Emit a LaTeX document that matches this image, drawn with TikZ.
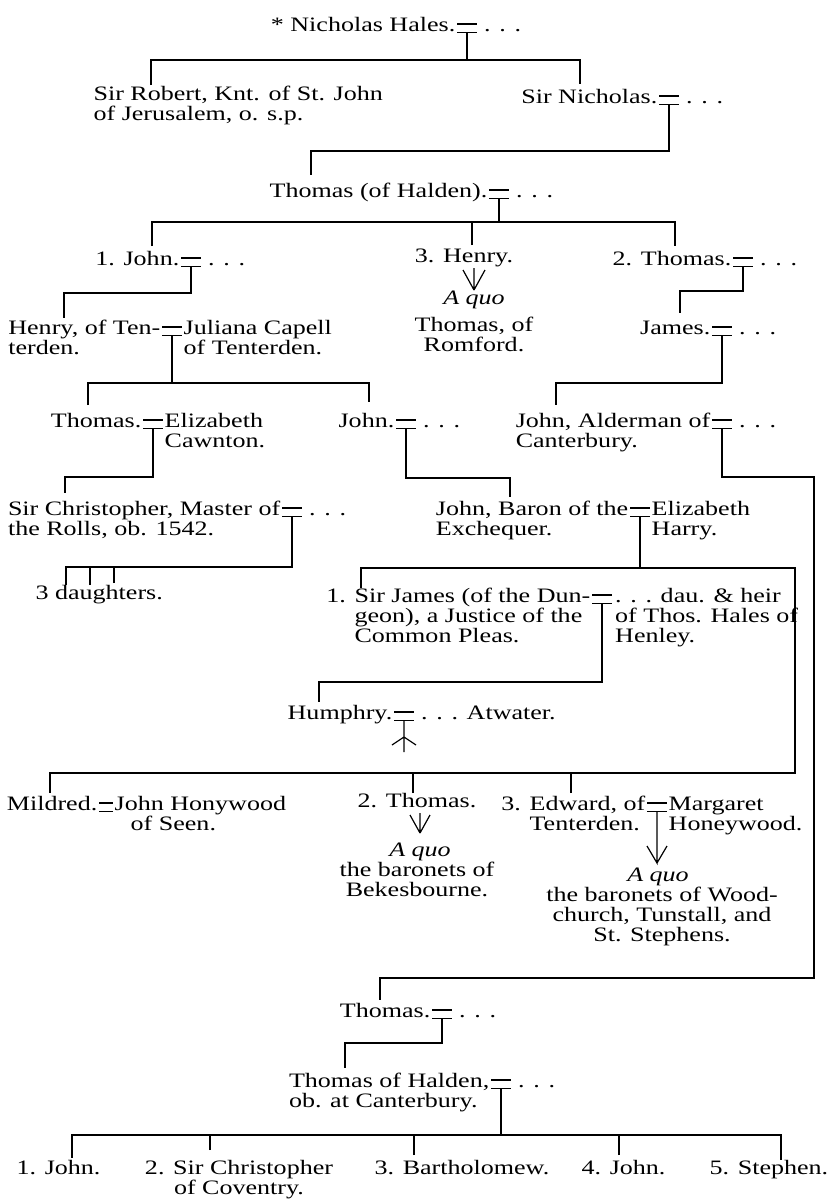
\documentclass[tikz,border=0pt]{standalone}
\usepackage{fontspec}
\setmainfont{Liberation Serif}[FakeStretch=1.27]
\usetikzlibrary{positioning}

\begin{document}
\begin{tikzpicture}[x=1pt, y=-1pt, line width=1.2pt,
  every node/.style={font=\fontsize{20.5}{20}\selectfont},
  pers/.style={inner sep=0pt, align=left},
  twoline/.style={yshift=-20pt},
  threeline/.style={yshift=-40pt},
  wed/.style={inner sep=0pt, minimum width=18pt, minimum height=0pt,
    text height=7pt, text depth=-2pt,
    append after command={(\tikzlastnode.north west) edge (\tikzlastnode.north east)
      (\tikzlastnode.south west) edge (\tikzlastnode.south east)}}
]
\useasboundingbox (0,0) rectangle (828,1202);

% Nicholas Hales and his sons
\node[wed] (nichW) at (467,28) {};
\node[pers, base left=1.5pt of nichW] (nich) {* Nicholas Hales.};
\node[pers, base right=7pt of nichW] (nichS) {. . .};
\node[pers, anchor=base west] (robert) at (93,120) {Sir Robert, Knt. of St. John\\of Jerusalem, o. s.p.};
\node[wed] (sirnichW) at (669,100) {};
\node[pers, base left=1.5pt of sirnichW] (sirnich) {Sir Nicholas.};
\node[pers, base right=7pt of sirnichW] (sirnichS) {. . .};

% Thomas of Halden and his sons
\node[wed] (thomHW) at (499,194) {};
\node[pers, base left=1.5pt of thomHW] (thomH) {Thomas (of Halden).};
\node[pers, base right=7pt of thomHW] (thomHS) {. . .};
\node[wed] (johnW) at (191,262) {};
\node[pers, base left=1.5pt of johnW] (john) {1. John.};
\node[pers, base right=7pt of johnW] (johnS) {. . .};
\node[pers, anchor=base] (henry) at (464,262) {3. Henry.};
\node[pers, anchor=base] (henryQ) at (474,304) {\textit{A quo}};
\node[pers, anchor=base, align=center] (romford) at (474,351) {Thomas, of\\Romford.};
\node[wed] (thom2W) at (743,262) {};
\node[pers, base left=1.5pt of thom2W] (thom2) {2. Thomas.};
\node[pers, base right=7pt of thom2W] (thom2S) {. . .};

% grandsons
\node[wed] (henryTW) at (172,331) {};
\node[pers, twoline, base left=1.5pt of henryTW] (henryT) {Henry, of Ten-\\terden.};
\node[pers, twoline, base right=1.5pt of henryTW] (juliana) {Juliana Capell\\of Tenterden.};
\node[wed] (jamesW) at (722,331) {};
\node[pers, base left=1.5pt of jamesW] (james) {James.};
\node[pers, base right=7pt of jamesW] (jamesS) {. . .};

\node[wed] (thomEW) at (153,424) {};
\node[pers, base left=1.5pt of thomEW] (thomE) {Thomas.};
\node[pers, twoline, base right=1.5pt of thomEW] (eliz) {Elizabeth\\Cawnton.};
\node[wed] (john2W) at (406,424) {};
\node[pers, base left=1.5pt of john2W] (john2) {John.};
\node[pers, base right=7pt of john2W] (john2S) {. . .};
\node[wed] (aldW) at (722,424) {};
\node[pers, twoline, base left=1.5pt of aldW] (ald) {John, Alderman of\\Canterbury.};
\node[pers, base right=7pt of aldW] (aldS) {. . .};

\node[wed] (chrisW) at (292,512) {};
\node[pers, twoline, base left=1.5pt of chrisW] (chris) {Sir Christopher, Master of\\the Rolls, ob. 1542.};
\node[pers, base right=7pt of chrisW] (chrisS) {. . .};
\node[wed] (baronW) at (640,512) {};
\node[pers, twoline, base left=1.5pt of baronW] (baron) {John, Baron of the\\Exchequer.};
\node[pers, twoline, base right=1.5pt of baronW] (harry) {Elizabeth\\Harry.};

\node[pers, anchor=base west] (daughters) at (35,599) {3 daughters.};
\node[wed] (sirjamesW) at (602,599) {};
\node[pers, threeline, base left=1.5pt of sirjamesW] (sirjames) {1. Sir James (of the Dun-\\\phantom{1. }geon), a Justice of the\\\phantom{1. }Common Pleas.};
\node[pers, threeline, base right=3pt of sirjamesW] (henley) {. . . dau. \& heir\\of Thos. Hales of\\Henley.};

\node[wed] (humW) at (404,716) {};
\node[pers, base left=1.5pt of humW] (hum) {Humphry.};
\node[pers, base right=7pt of humW] (atwater) {. . . Atwater.};

\node[wed, minimum width=12pt] (mildW) at (106,807) {};
\node[pers, base left=1.5pt of mildW] (mild) {Mildred.};
\node[pers, twoline, base right=1.5pt of mildW] (honywood) {John Honywood\\\hspace*{16pt}of Seen.};
\node[pers, anchor=base] (thomas2) at (417,807) {2. Thomas.};
\node[pers, anchor=base] (thomas2Q) at (420,856) {\textit{A quo}};
\node[pers, anchor=base, align=center] (beke) at (417,896) {the baronets of\\Bekesbourne.};
\node[wed] (edwW) at (657,807) {};
\node[pers, twoline, base left=1.5pt of edwW] (edw) {3. Edward, of\\\phantom{3. }Tenterden.};
\node[pers, twoline, base right=1.5pt of edwW] (marg) {Margaret\\Honeywood.};
\node[pers, anchor=base] (edwQ) at (658,881) {\textit{A quo}};
\node[pers, anchor=base, align=center] (wood) at (662,941) {the baronets of Wood-\\church, Tunstall, and\\St. Stephens.};

% the line of the Alderman
\node[wed] (thom3W) at (442,1014) {};
\node[pers, base left=1.5pt of thom3W] (thom3) {Thomas.};
\node[pers, base right=7pt of thom3W] (thom3S) {. . .};
\node[wed] (haldenW) at (501,1084) {};
\node[pers, twoline, base left=1.5pt of haldenW] (halden) {Thomas of Halden,\\ob. at Canterbury.};
\node[pers, base right=7pt of haldenW] (haldenS) {. . .};
\node[pers, anchor=base west] (s1) at (16,1174) {1. John.};
\node[pers, anchor=base, align=center] (s2) at (239,1194) {2. Sir Christopher\\of Coventry.};
\node[pers, anchor=base west] (s3) at (374,1174) {3. Bartholomew.};
\node[pers, anchor=base west] (s4) at (581,1174) {4. John.};
\node[pers, anchor=base west] (s5) at (709,1174) {5. Stephen.};

% sibling bars and drop ends
\coordinate (k1) at (0,60);      \coordinate (t-robert) at (151,85);   \coordinate (t-sirnich) at (580,84);
\coordinate (k2) at (0,151);     \coordinate (t-thomH) at (311,175);
\coordinate (k3) at (0,222);     \coordinate (t-john) at (152,246);    \coordinate (t-henry) at (472,245);
\coordinate (t-thom2) at (675,246);
\coordinate (k4) at (0,293);     \coordinate (t-henryT) at (64,318);
\coordinate (k5) at (0,291);     \coordinate (t-james) at (680,313);
\coordinate (k6) at (0,383);     \coordinate (t-thomE) at (88,405);    \coordinate (t-john2) at (369,402);
\coordinate (k7) at (0,383);     \coordinate (t-ald) at (556,405);
\coordinate (k8) at (0,477);     \coordinate (t-chris) at (65,493);
\coordinate (k9) at (0,478);     \coordinate (t-baron) at (510,497);
\coordinate (k10) at (814,477);  \coordinate (k11) at (814,978);       \coordinate (t-thom3) at (380,1000);
\coordinate (k12) at (0,567);    \coordinate (t-d1) at (66,585);       \coordinate (t-d2) at (90,585);
\coordinate (t-d3) at (114,583);
\coordinate (k13) at (795,568);  \coordinate (k14) at (795,773);       \coordinate (t-sirjames) at (361,588);
\coordinate (t-mild) at (50,793); \coordinate (t-thomas2) at (413,793); \coordinate (t-edw) at (571,793);
\coordinate (k15) at (0,682);    \coordinate (t-hum) at (319,702);
\coordinate (k16) at (0,1043);   \coordinate (t-halden) at (345,1068);
\coordinate (k17) at (0,1135);   \coordinate (t-s1) at (72,1158);      \coordinate (t-s2) at (210,1150);
\coordinate (t-s3) at (414,1155); \coordinate (t-s4) at (619,1155);   \coordinate (t-s5) at (781,1160);

% descent lines
\draw (nichW.south) -- (nichW.south |- k1) (t-robert) |- (k1 -| t-sirnich) -- (t-sirnich);
\draw (sirnichW.south) -- (sirnichW.south |- k2) -| (t-thomH);
\draw (thomHW.south) -- (thomHW.south |- k3) (t-john) |- (k3 -| t-thom2) -- (t-thom2)
      (t-henry) -- (t-henry |- k3);
\draw (johnW.south) -- (johnW.south |- k4) -| (t-henryT);
\draw (thom2W.south) -- (thom2W.south |- k5) -| (t-james);
\draw (henryTW.south) -- (henryTW.south |- k6) (t-thomE) |- (k6 -| t-john2) -- (t-john2);
\draw (jamesW.south) -- (jamesW.south |- k7) -| (t-ald);
\draw (thomEW.south) -- (thomEW.south |- k8) -| (t-chris);
\draw (john2W.south) -- (john2W.south |- k9) -| (t-baron);
\draw (aldW.south) |- (k10) -- (k11) -| (t-thom3);
\draw (chrisW.south) -- (chrisW.south |- k12) -| (t-d1)
      (t-d2) -- (t-d2 |- k12) (t-d3) -- (t-d3 |- k12);
\draw (baronW.south) -- (baronW.south |- k13) (t-sirjames) |- (k13) -- (k14) -| (t-mild)
      (t-thomas2) -- (t-thomas2 |- k14) (t-edw) -- (t-edw |- k14);
\draw (sirjamesW.south) -- (sirjamesW.south |- k15) -| (t-hum);
\draw (thom3W.south) -- (thom3W.south |- k16) -| (t-halden);
\draw (haldenW.south) -- (haldenW.south |- k17) (t-s1) |- (k17 -| t-s5) -- (t-s5)
      (t-s2) -- (t-s2 |- k17) (t-s3) -- (t-s3 |- k17) (t-s4) -- (t-s4 |- k17);

% a quo marks and the fork under Humphry
\coordinate (v-henry) at (474,290);
\coordinate (v-thomas2) at (420,833);
\coordinate (v-edw) at (657,863);
\coordinate (f-hum) at (404,737);
\draw (v-henry) -- ++(0,-22) (v-henry) -- ++(-11,-20) (v-henry) -- ++(11,-20);
\draw (v-thomas2) -- ++(0,-20) (v-thomas2) -- ++(-10,-18) (v-thomas2) -- ++(10,-18);
\draw (edwW.south) -- (v-edw) -- ++(-10,-17) (v-edw) -- ++(10,-17);
\draw (humW.south) -- ++(0,32) (f-hum) -- ++(-12,8) (f-hum) -- ++(12,8);
\end{tikzpicture}
\end{document}
